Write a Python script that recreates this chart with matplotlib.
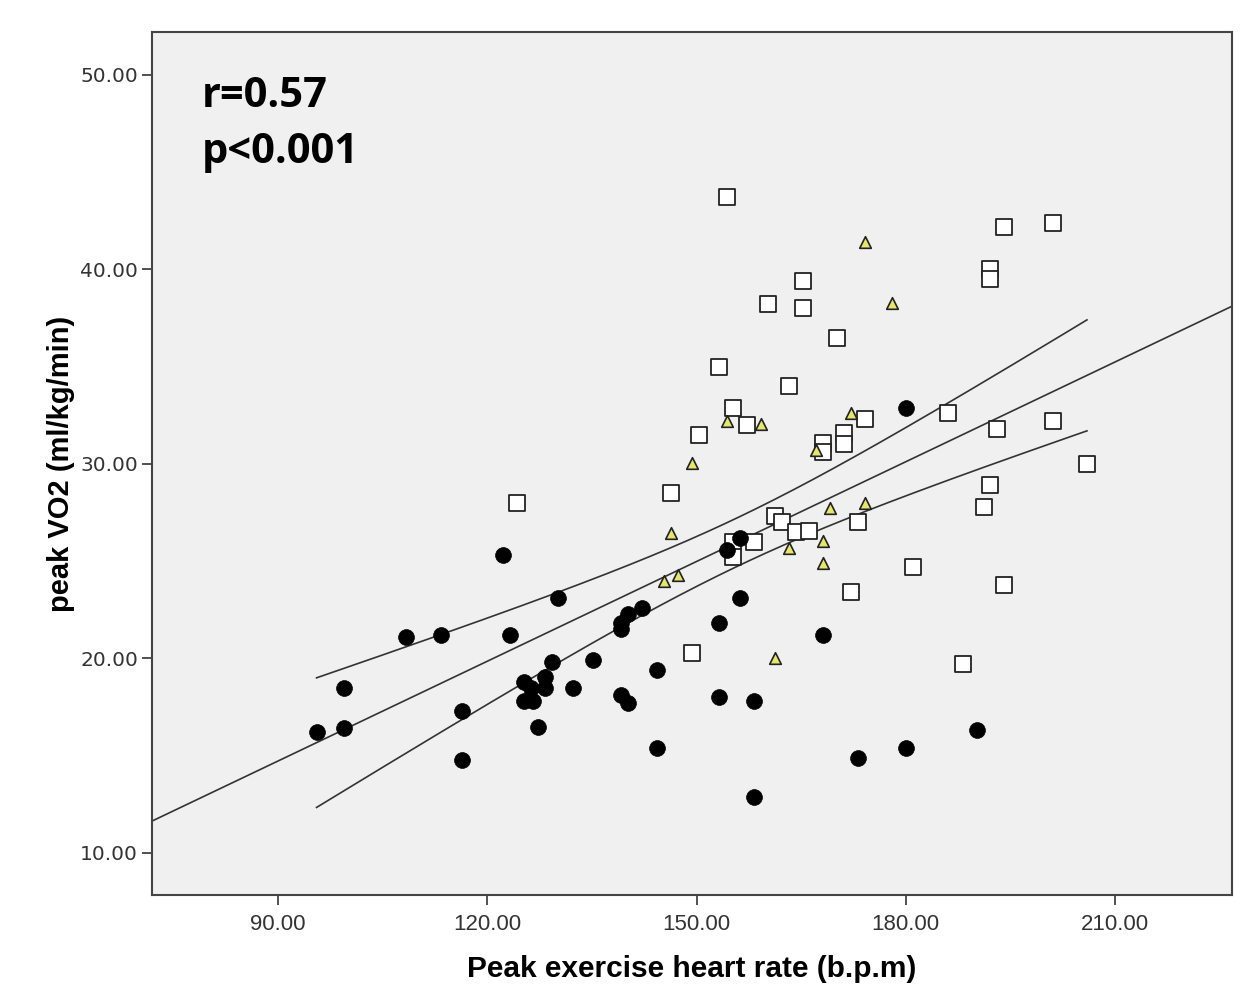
import numpy as np
import matplotlib
matplotlib.use("Agg")
import matplotlib.pyplot as plt

# --- data ---
circle_x = [95.5, 99.5, 99.5, 108.4, 113.4, 116.4, 116.3, 122.3, 123.3, 125.2,
            126.2, 125.2, 126.5, 127.3, 128.3, 128.3, 129.3, 130.2, 132.3, 135.2,
            139.1, 139.1, 140.2, 142.2, 139.1, 140.2, 144.3, 144.3, 154.3, 156.2,
            156.2, 153.2, 168.2, 153.2, 158.2, 158.2, 173.1, 180.1, 190.2, 180.1]
circle_y = [16.2, 18.5, 16.4, 21.1, 21.2, 17.3, 14.8, 25.3, 21.2, 18.8,
            18.5, 17.8, 17.8, 16.5, 19.05, 18.5, 19.8, 23.1, 18.5, 19.9,
            21.8, 21.5, 22.3, 22.6, 18.1, 17.7, 19.4, 15.4, 25.6, 26.2,
            23.1, 21.8, 21.2, 18.0, 17.8, 12.9, 14.9, 15.4, 16.3, 32.9]

square_x = [154.3, 165.2, 160.2, 165.2, 170.2, 153.2, 163.2, 155.2, 157.3, 150.3,
            174.1, 171.2, 171.2, 168.2, 168.2, 146.3, 124.3, 194.1, 201.1, 192.1,
            192.1, 186.0, 193.1, 201.1, 206.0, 192.1, 191.2, 173.1, 181.1, 172.2,
            194.1, 188.2, 161.3, 162.3, 164.2, 166.2, 158.2, 155.3, 155.3, 149.3]
square_y = [43.7, 39.4, 38.2, 38.0, 36.5, 35.0, 34.0, 32.9, 32.0, 31.5,
            32.3, 31.6, 31.0, 31.1, 30.6, 28.5, 28.0, 42.2, 42.4, 40.0,
            39.5, 32.6, 31.8, 32.2, 30.0, 28.9, 27.8, 27.0, 24.7, 23.4,
            23.8, 19.7, 27.3, 27.0, 26.5, 26.55, 26.0, 26.0, 25.2, 20.3]

triangle_x = [174.1, 178.1, 154.3, 159.3, 172.1, 167.1, 149.3, 146.3,
              145.3, 147.3, 169.2, 174.1, 168.2, 163.2, 168.2, 161.2]
triangle_y = [41.4, 38.3, 32.2, 32.05, 32.6, 30.7, 30.05, 26.45,
              24.0, 24.3, 27.75, 28.0, 26.05, 25.7, 24.9, 20.0]

x_ticks = [90, 120, 150, 180, 210]
y_ticks = [10, 20, 30, 40, 50]

# --- regression line + 95% CI of the mean ---
all_x = np.array(circle_x + square_x + triangle_x)
all_y = np.array(circle_y + square_y + triangle_y)
n = len(all_x)
slope, intercept = np.polyfit(all_x, all_y, 1)
resid = all_y - (slope * all_x + intercept)
s = np.sqrt(np.sum(resid ** 2) / (n - 2))
xbar = all_x.mean()
sxx = np.sum((all_x - xbar) ** 2)
t_crit = 1.986

plt.rcParams['font.family'] = ['Liberation Sans Narrow', 'Liberation Sans', 'DejaVu Sans']

fig = plt.figure(figsize=(12.5, 10.05), dpi=100)
ax = fig.add_axes([0.1216, 0.1095, 0.864, 0.8585])
ax.set_facecolor("#f0f0f0")

ax.set_xlim(71.9, 226.8)
ax.set_ylim(7.84, 52.2)

xl = np.array(ax.get_xlim())
ax.plot(xl, slope * xl + intercept, color="#333333", lw=1.2, zorder=2)

xc = np.linspace(all_x.min(), all_x.max(), 200)
yc = slope * xc + intercept
half = t_crit * s * np.sqrt(1 / n + (xc - xbar) ** 2 / sxx)
ax.plot(xc, yc + half, color="#333333", lw=1.2, zorder=2)
ax.plot(xc, yc - half, color="#333333", lw=1.2, zorder=2)

ax.scatter(square_x, square_y, marker="s", s=120, facecolor="white",
           edgecolor="#222222", linewidth=1.3, zorder=3)
ax.scatter(triangle_x, triangle_y, marker="^", s=70, facecolor="#e6e66e",
           edgecolor="#222222", linewidth=1.2, zorder=4)
ax.scatter(circle_x, circle_y, marker="o", s=130, facecolor="black",
           edgecolor="black", linewidth=0.5, zorder=5)

ax.set_xticks(x_ticks)
ax.set_xticklabels([f"{v:.2f}" for v in x_ticks])
ax.set_yticks(y_ticks)
ax.set_yticklabels([f"{v:.2f}" for v in y_ticks], family=['DejaVu Sans'])

ax.tick_params(direction="out", length=7, width=1.2, color="#333333",
               labelcolor="#333333")
ax.tick_params(axis="x", labelsize=16, pad=7)
ax.tick_params(axis="y", labelsize=14.5, pad=3)
for side in ax.spines.values():
    side.set_color("#444444")
    side.set_linewidth(1.5)

ax.set_xlabel("Peak exercise heart rate (b.p.m)", fontsize=21.5, fontweight="bold",
              labelpad=14)
ax.set_ylabel("peak VO2 (ml/kg/min)", fontsize=21, fontweight="bold", labelpad=4)

ax.text(0.046, 0.913, "r=0.57", transform=ax.transAxes, fontsize=30,
        fontweight="bold", family=['Open Sans', 'DejaVu Sans'], va="baseline")
ax.text(0.046, 0.848, "p<0.001", transform=ax.transAxes, fontsize=30,
        fontweight="bold", family=['Open Sans', 'DejaVu Sans'], va="baseline")

plt.savefig("out.png", dpi=100, facecolor="white")
